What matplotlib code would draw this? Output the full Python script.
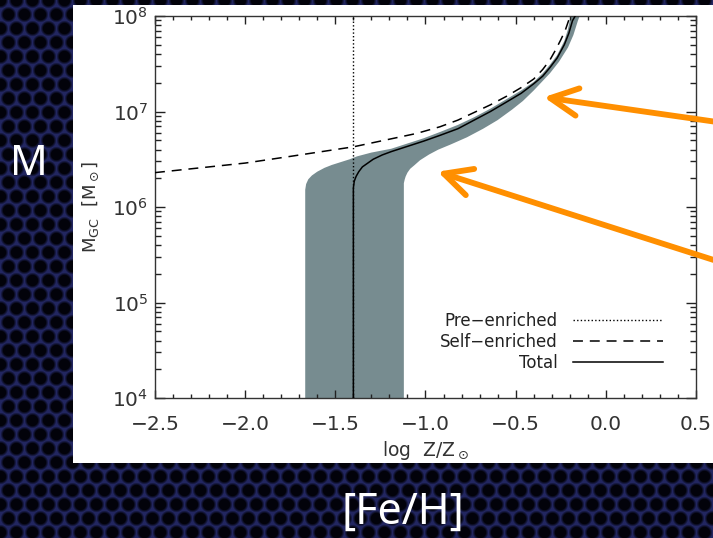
import matplotlib
matplotlib.use("Agg")
import matplotlib.pyplot as plt
import numpy as np
from matplotlib.patches import Rectangle
from matplotlib.ticker import MultipleLocator, LogLocator, NullFormatter

# log Z/Zsun and log M_GC (Msun)
total_logz = [-1.40, -1.40, -1.395, -1.385, -1.37, -1.35, -1.32, -1.29, -1.24, -1.19,
              -1.10, -1.01, -0.92, -0.82, -0.73, -0.64, -0.55, -0.47, -0.40, -0.35,
              -0.31, -0.27, -0.23, -0.205, -0.185, -0.17]
total_logm = [4.0, 6.20, 6.27, 6.32, 6.37, 6.42, 6.46, 6.50, 6.545, 6.58,
              6.635, 6.69, 6.75, 6.82, 6.91, 7.00, 7.10, 7.19, 7.29, 7.37,
              7.46, 7.56, 7.70, 7.82, 7.95, 8.0]

self_logz = [-2.5, -2.0, -1.75, -1.40, -1.20, -1.05, -0.92, -0.82, -0.73, -0.64,
             -0.55, -0.47, -0.40, -0.35, -0.31, -0.28, -0.25, -0.225, -0.205, -0.195]
self_logm = [6.36, 6.46, 6.53, 6.63, 6.71, 6.77, 6.84, 6.91, 6.99, 7.07,
             7.16, 7.25, 7.34, 7.44, 7.54, 7.64, 7.75, 7.85, 7.96, 8.0]

pre_logz = [-1.40, -1.40]
pre_logm = [4.0, 8.0]

# spread of the total model: left/upper edge, then right/lower edge
band_upper_logz = [-1.667, -1.667, -1.662, -1.650, -1.630, -1.600, -1.560, -1.52, -1.47,
                   -1.42, -1.38, -1.30, -1.19, -1.10, -1.01, -0.92, -0.82, -0.73,
                   -0.64, -0.55, -0.47, -0.40, -0.35, -0.31, -0.27, -0.23, -0.21, -0.195]
band_upper_logm = [4.0, 6.18, 6.24, 6.29, 6.33, 6.37, 6.41, 6.44, 6.47,
                   6.50, 6.53, 6.57, 6.61, 6.665, 6.72, 6.785, 6.86, 6.94,
                   7.03, 7.13, 7.22, 7.31, 7.40, 7.49, 7.59, 7.74, 7.86, 8.0]
band_lower_logz = [-0.145, -0.155, -0.18, -0.21, -0.26, -0.31, -0.36, -0.40, -0.46,
                   -0.52, -0.60, -0.68, -0.77, -0.86, -0.93, -0.98, -1.03, -1.06,
                   -1.085, -1.10, -1.11, -1.115, -1.12, -1.12]
band_lower_logm = [8.0, 7.95, 7.80, 7.67, 7.52, 7.40, 7.30, 7.22, 7.11,
                   7.02, 6.91, 6.82, 6.73, 6.655, 6.60, 6.55, 6.49, 6.44,
                   6.40, 6.36, 6.32, 6.29, 6.25, 4.0]

legend_labels = ["Pre\u2212enriched", "Self\u2212enriched", "Total"]

W, H = 713, 538
fig = plt.figure(figsize=(W / 100, H / 100), dpi=100)

# slide background: navy plate with a hexagonal grid of dark holes
yy, xx = np.mgrid[0:H, 0:W].astype(float)
sx, sy = 16.0, 14.0
row = np.round(yy / sy)
d = np.full(xx.shape, 1e9)
for dr in (-1, 0, 1):
    r2 = row + dr
    sh2 = (r2 % 2) * sx / 2
    cx2 = np.round((xx - sh2) / sx) * sx + sh2
    d = np.minimum(d, np.hypot(xx - cx2, yy - r2 * sy))
v = np.clip((d - 5.2) / 2.8, 0, 1)
hole = np.array([2, 2, 10]) / 255
plate = np.array([34, 38, 96]) / 255
bg = hole + v[..., None] * (plate - hole)
bax = fig.add_axes([0, 0, 1, 1], zorder=-2)
bax.imshow(bg, aspect="auto", interpolation="bilinear")
bax.axis("off")

fig.patches.append(Rectangle((73 / W, 1 - 463 / H), 1, (463 - 5) / H,
                             transform=fig.transFigure, facecolor="white",
                             edgecolor="none", zorder=-1))

ax = fig.add_axes([155 / W, 1 - 398 / H, (696 - 155) / W, (398 - 16) / H])
ax.set_facecolor("white")

band_x = band_upper_logz + band_lower_logz
band_y = [10 ** m for m in band_upper_logm + band_lower_logm]
ax.fill(band_x, band_y, color="#778c90", lw=0, zorder=1)

ax.plot(pre_logz, [10 ** m for m in pre_logm], color="black", lw=1.0,
        linestyle=(0, (1, 1.6)), label=legend_labels[0], zorder=3)
ax.plot(self_logz, [10 ** m for m in self_logm], color="black", lw=1.1,
        linestyle=(0, (6.5, 4.5)), label=legend_labels[1], zorder=3)
ax.plot(total_logz, [10 ** m for m in total_logm], color="black", lw=1.1,
        label=legend_labels[2], zorder=3)

ax.set_yscale("log")
ax.set_xlim(-2.5, 0.5)
ax.set_ylim(1e4, 1e8)
ax.xaxis.set_major_locator(MultipleLocator(0.5))
ax.xaxis.set_minor_locator(MultipleLocator(0.1))
ax.yaxis.set_minor_locator(LogLocator(base=10, subs=np.arange(2, 10)))
ax.yaxis.set_minor_formatter(NullFormatter())
ax.xaxis.set_major_formatter(plt.FuncFormatter(lambda v, p: f"{v:.1f}".replace("-", "\u2212")))

ax.tick_params(axis="both", which="both", direction="in", top=True, right=True,
               color="#222222", labelcolor="#333333", width=1.0)
ax.tick_params(axis="x", which="major", length=6, labelsize=14.5, pad=12)
ax.tick_params(axis="x", which="minor", length=3)
ax.tick_params(axis="y", which="major", length=7.5, labelsize=14.5, pad=5)
ax.tick_params(axis="y", which="minor", length=4.5)
for sp in ax.spines.values():
    sp.set_color("#333333")
    sp.set_linewidth(1.0)

ax.set_xlabel(r"log  Z/Z$_\odot$", fontsize=13.5, color="#333333", labelpad=4)
ax.set_ylabel(r"M$_{\rm GC}$  [M$_\odot$]", fontsize=13, color="#333333", labelpad=8)

ax.legend(loc="lower right", bbox_to_anchor=(0.952, 0.05), borderaxespad=0,
          frameon=False, markerfirst=False, handlelength=5.45, handletextpad=0.9,
          labelspacing=0.2, fontsize=12, labelcolor="#222222")

# orange arrows pointing at the curves
for tip, tail in [((-0.344, 10 ** 7.15), (745, 538 - 126)),
                  ((-0.933, 10 ** 6.37), (745, 538 - 270))]:
    ax.annotate("", xy=tip, xycoords="data", xytext=tail, textcoords="figure pixels",
                arrowprops=dict(arrowstyle="->,head_length=1.1,head_width=0.55",
                                color="#ff8f00", lw=4.2, mutation_scale=18,
                                shrinkA=0, shrinkB=0, capstyle="round"),
                annotation_clip=False, zorder=5)

fig.text(29 / W, 1 - 164 / H, "M", color="white", fontsize=30, family="Noto Sans",
         ha="center", va="center")
fig.text(403 / W, 1 - 513 / H, "[Fe/H]", color="white", fontsize=31, family="Noto Sans",
         ha="center", va="center")

fig.savefig("out.png", dpi=100)
